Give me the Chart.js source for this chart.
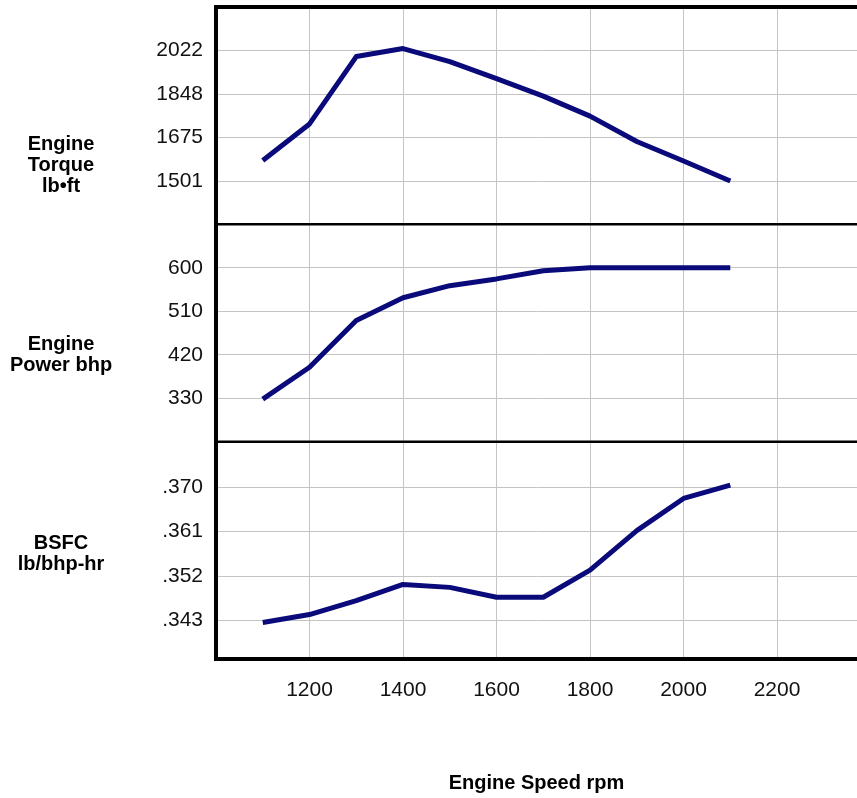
<!DOCTYPE html>
<html>
<head>
<meta charset="utf-8">
<script src="https://cdn.jsdelivr.net/npm/chart.js@4/dist/chart.umd.min.js"></script>
<style>
  html, body { margin: 0; padding: 0; background: #fff; }
  #wrap { width: 857px; height: 798px; }
</style>
</head>
<body>
<div id="wrap"><canvas id="engineChart"></canvas></div>
<script>
// engine speed, rpm
const rpm = [1100, 1200, 1300, 1400, 1500, 1600, 1700, 1800, 1900, 2000, 2100];
const torque = [1583, 1729, 1998, 2030, 1978, 1910, 1840, 1760, 1659, 1581, 1501];
const power = [328, 394, 491, 538, 563, 577, 594, 600, 600, 600, 600];
const bsfc = [0.3426, 0.3442, 0.3470, 0.3503, 0.3497, 0.3477, 0.3477, 0.3532, 0.3612, 0.3677, 0.3704];

const rpmTicks = [1200, 1400, 1600, 1800, 2000, 2200];
const torqueTicks = [1501, 1675, 1848, 2022];
const powerTicks = [330, 420, 510, 600];
const bsfcTicks = [0.343, 0.352, 0.361, 0.370];

const panelTitles = [
    ['Engine', 'Torque', 'lb\u2022ft'],
    ['Engine', 'Power bhp'],
    ['BSFC', 'lb/bhp-hr']
];

const FONT = '"Liberation Sans", Arial, Helvetica, sans-serif';
const NAVY = '#0a0a7a';
const GRID = '#c4c4c4';

function points(ys) {
    return rpm.map((r, i) => ({ x: r, y: ys[i] }));
}

function fixedTicks(values) {
    return function(scale) {
        scale.ticks = values.map(v => ({ value: v }));
    };
}

function yAxis(weight, min, max, ticks, fmt) {
    return {
        type: 'linear',
        position: 'left',
        stack: 'engine',
        stackWeight: 1,
        weight: weight,
        min: min,
        max: max,
        afterBuildTicks: fixedTicks(ticks),
        afterFit: function(scale) {
            scale.width = 216;
            scale.paddingTop = 0;
            scale.paddingBottom = 0;
        },
        border: { display: true, color: '#000', width: 4 },
        grid: { color: GRID, lineWidth: 1, drawTicks: false },
        ticks: {
            color: '#111',
            padding: 13,
            font: { family: FONT, size: 21 },
            callback: fmt
        }
    };
}

// top border, panel dividers and the left-hand titles
const framePlugin = {
    id: 'frame',
    afterDraw(chart) {
        const ctx = chart.ctx;
        const area = chart.chartArea;
        const ids = ['yTorque', 'yPower', 'yBsfc'];
        const shift = [50, 22, 4];
        ctx.save();
        ctx.strokeStyle = '#000';
        ctx.lineWidth = 4;
        ctx.beginPath();
        ctx.moveTo(area.left - 2, area.top);
        ctx.lineTo(area.right, area.top);
        ctx.stroke();
        ctx.lineWidth = 2.5;
        ['yTorque', 'yPower'].forEach(id => {
            const s = chart.scales[id];
            ctx.beginPath();
            ctx.moveTo(area.left, s.bottom);
            ctx.lineTo(area.right, s.bottom);
            ctx.stroke();
        });
        ctx.fillStyle = '#000';
        ctx.font = 'bold 20px ' + FONT;
        ctx.textAlign = 'center';
        ctx.textBaseline = 'middle';
        ids.forEach((id, k) => {
            const s = chart.scales[id];
            const lines = panelTitles[k];
            const mid = (s.top + s.bottom) / 2 + shift[k];
            const lh = 21;
            const start = mid - (lines.length - 1) * lh / 2;
            lines.forEach((t, j) => ctx.fillText(t, 61, start + j * lh));
        });
        ctx.restore();
    }
};

const lineStyle = {
    borderColor: NAVY,
    borderWidth: 5,
    pointRadius: 0,
    tension: 0,
    fill: false,
    borderCapStyle: 'butt',
    borderJoinStyle: 'round'
};

new Chart(document.getElementById('engineChart'), {
    type: 'line',
    data: {
        datasets: [
            Object.assign({ label: 'Engine Torque', data: points(torque), yAxisID: 'yTorque' }, lineStyle),
            Object.assign({ label: 'Engine Power', data: points(power), yAxisID: 'yPower' }, lineStyle),
            Object.assign({ label: 'BSFC', data: points(bsfc), yAxisID: 'yBsfc' }, lineStyle)
        ]
    },
    options: {
        responsive: true,
        maintainAspectRatio: false,
        animation: false,
        layout: { padding: { top: 7, right: 0, left: 0, bottom: 0 } },
        plugins: { legend: { display: false }, tooltip: { enabled: false } },
        scales: {
            x: {
                type: 'linear',
                min: 1000,
                max: 2371,
                afterBuildTicks: fixedTicks(rpmTicks),
                afterFit: function(scale) {
                    scale.height = 139;
                    scale.paddingLeft = 0;
                    scale.paddingRight = 0;
                },
                border: { display: true, color: '#000', width: 4 },
                grid: { color: GRID, lineWidth: 1, drawTicks: false },
                ticks: {
                    color: '#111',
                    padding: 19,
                    maxRotation: 0,
                    font: { family: FONT, size: 21 },
                    callback: v => String(v)
                },
                title: {
                    display: true,
                    text: 'Engine Speed rpm',
                    color: '#000',
                    font: { family: FONT, size: 20, weight: 'bold' },
                    padding: { top: 0, bottom: 3 }
                }
            },
            yTorque: yAxis(3, 1328, 2196, torqueTicks, v => String(v)),
            yPower: yAxis(2, 240, 690, powerTicks, v => String(v)),
            yBsfc: yAxis(1, 0.3352, 0.3792, bsfcTicks, v => v.toFixed(3).replace(/^0/, ''))
        }
    },
    plugins: [framePlugin]
});
</script>
</body>
</html>
